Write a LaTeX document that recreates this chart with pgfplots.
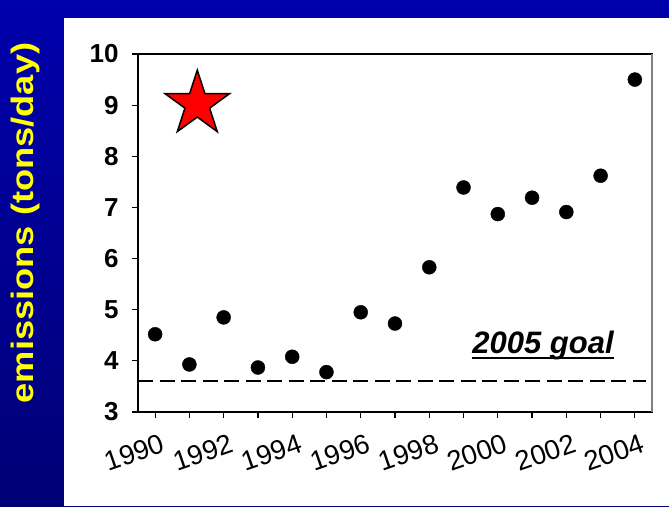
\documentclass[border=0pt]{standalone}
\usepackage{fontspec}
\setmainfont{Liberation Sans}
\usepackage{pgfplots}
\pgfplotsset{compat=1.18}
\definecolor{slidetop}{RGB}{0,0,172}
\definecolor{slidebot}{RGB}{0,0,118}
\definecolor{labyellow}{RGB}{255,255,0}

% filled five-pointed star mark
\pgfdeclareplotmark{fivestar}{%
  \pgfpathmoveto{\pgfpointpolar{90}{\pgfplotmarksize}}%
  \pgfpathlineto{\pgfpointpolar{126}{0.382\pgfplotmarksize}}%
  \pgfpathlineto{\pgfpointpolar{162}{\pgfplotmarksize}}%
  \pgfpathlineto{\pgfpointpolar{198}{0.382\pgfplotmarksize}}%
  \pgfpathlineto{\pgfpointpolar{234}{\pgfplotmarksize}}%
  \pgfpathlineto{\pgfpointpolar{270}{0.382\pgfplotmarksize}}%
  \pgfpathlineto{\pgfpointpolar{306}{\pgfplotmarksize}}%
  \pgfpathlineto{\pgfpointpolar{342}{0.382\pgfplotmarksize}}%
  \pgfpathlineto{\pgfpointpolar{18}{\pgfplotmarksize}}%
  \pgfpathlineto{\pgfpointpolar{54}{0.382\pgfplotmarksize}}%
  \pgfpathclose
  \pgfusepathqfillstroke}

\pgfplotstableread{
year  tons
1990  4.52
1991  3.93
1992  4.85
1993  3.87
1994  4.08
1995  3.78
1996  4.95
1997  4.73
1998  5.83
1999  7.39
2000  6.87
2001  7.19
2002  6.91
2003  7.62
2004  9.50
}\emissions

\begin{document}
\begin{tikzpicture}
% slide background
\shade[top color=slidetop, bottom color=slidebot] (0pt,0pt) rectangle (669pt,506pt);
\fill[white] (64pt,0pt) rectangle (669pt,488pt);
\node[rotate=90, text=labyellow, font=\bfseries\fontsize{31}{31}\selectfont, xscale=1.17, inner sep=0pt]
  at (25pt,283pt) {emissions (tons/day)};

\begin{axis}[
  at={(138pt,94pt)}, anchor=south west,
  scale only axis, width=514pt, height=358pt,
  xmin=1989.5, xmax=2004.5, ymin=3, ymax=10,
  xtick={1990,1992,...,2004},
  minor xtick={1991,1993,...,2003},
  xticklabels={1990,1992,1994,1996,1998,2000,2002,2004},
  ytick={3,4,...,10},
  tick pos=left, tick align=outside,
  major tick length=6pt, minor tick length=6pt,
  every tick/.style={black, line width=1.2pt},
  axis line style={line width=1.2pt},
  /pgf/number format/assume math mode=true,
  yticklabel style={font=\bfseries\fontsize{26}{26}\selectfont, xshift=-10pt},
  xticklabel style={font=\fontsize{27.5}{27.5}\selectfont, rotate=19, anchor=north east, inner sep=0pt, xshift=0pt, yshift=-16pt},
  clip=false,
]
\addplot[black, line width=2pt, dash pattern=on 15pt off 6.5pt] coordinates {(1989.5,3.6) (2004.33,3.6)};
\addplot[only marks, mark=*, mark size=7pt, black] table[x=year, y=tons] {\emissions};
\addplot[only marks, mark=fivestar, mark size=34pt, mark options={fill=red, draw=black, line width=1.5pt}] coordinates {(1991.23,9.02)};
\node[anchor=base, font=\bfseries\itshape\fontsize{31}{31}\selectfont, inner sep=0pt] (goal) at (axis cs:2001.32,4.15) {2005 goal};
\draw[line width=2pt] ([yshift=-5pt]goal.base west) -- ([yshift=-5pt]goal.base east);
\draw[gray, line width=1.2pt] (rel axis cs:1,0) -- (rel axis cs:1,1);
\end{axis}
\pgfresetboundingbox
\useasboundingbox (0pt,0pt) rectangle (669pt,506pt);
\end{tikzpicture}
\end{document}
